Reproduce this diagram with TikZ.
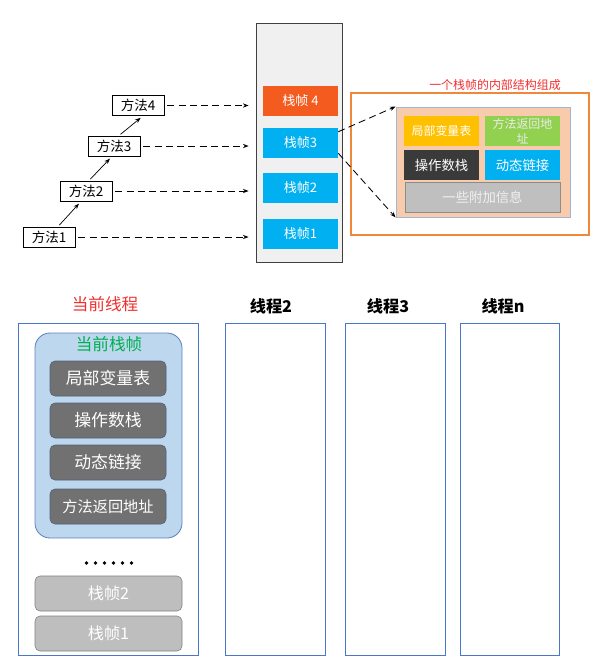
\documentclass[tikz,border=0pt]{standalone}
\usepackage{fontspec}
\setmainfont{Noto Sans CJK SC}
\usetikzlibrary{arrows.meta}

\newcommand{\pxu}{0.025cm}
\definecolor{stackgray}{HTML}{F0F0F0}
\definecolor{frameorange}{HTML}{F45B1F}
\definecolor{frameblue}{HTML}{00B0F0}
\definecolor{partyellow}{HTML}{FFC000}
\definecolor{partgreen}{HTML}{92D050}
\definecolor{partdark}{HTML}{3A3A3A}
\definecolor{partgray}{HTML}{BFBFBF}
\definecolor{peach}{HTML}{F8CBAD}
\definecolor{peachline}{HTML}{9DB7D5}
\definecolor{outerorange}{HTML}{F0883A}
\definecolor{titlered}{HTML}{F03030}
\definecolor{threadblue}{HTML}{4A78C8}
\definecolor{curblue}{HTML}{BDD7EE}
\definecolor{curline}{HTML}{5F82BF}
\definecolor{itemgray}{HTML}{717171}
\definecolor{itemline}{HTML}{4F607C}
\definecolor{oldgray}{HTML}{BEBEBE}
\definecolor{titlegreen}{HTML}{00B050}

\tikzset{
  method/.style={draw, fill=white, line width=0.6pt, inner sep=0pt,
    minimum width=52*\pxu, minimum height=20*\pxu, font=\fontsize{9.6}{10}\selectfont},
  frame/.style={fill=#1, text=white, inner sep=0pt,
    minimum width=75*\pxu, minimum height=30*\pxu, font=\fontsize{9.3}{10}\selectfont},
  part/.style={fill=#1, text=white, inner sep=0pt, align=center,
    minimum width=75*\pxu, minimum height=30*\pxu, font=\fontsize{8.5}{10}\selectfont},
  item/.style={draw=itemline, fill=itemgray, text=white, rounded corners=5*\pxu, inner sep=0pt,
    minimum width=116*\pxu, minimum height=35*\pxu, font=\fontsize{12}{14}\selectfont},
  olditem/.style={draw=gray, fill=oldgray, text=white, rounded corners=5*\pxu, inner sep=0pt,
    minimum width=147*\pxu, minimum height=35*\pxu, font=\fontsize{11.5}{14}\selectfont},
  thread/.style={draw=threadblue, line width=0.7pt, inner sep=0pt,
    minimum height=332*\pxu, minimum width=#1*\pxu},
  threadname/.style={font=\fontsize{11.5}{14}\selectfont\bfseries},
  calls/.style={dash pattern=on 5pt off 3pt, line width=0.6pt, -{Stealth[length=4pt,width=3pt]}}
}

\begin{document}
\begin{tikzpicture}[x=0.025cm, y=-0.025cm]
  \useasboundingbox (0,0) rectangle (610,672);

  % stack of the thread
  \node[draw=black!75, fill=stackgray, line width=0.6pt, minimum width=86*\pxu, minimum height=239*\pxu] (stack) at (299,142.5) {};
  \node[frame=frameorange] (f4) at (300.5,101) {栈帧 4};
  \foreach \n/\y in {3/143, 2/188, 1/234}
    \node[frame=frameblue] (f\n) at (300.5,\y) {栈帧\n};

  % methods calling each other
  \node[method] (m1) at (49,237) {方法1};
  \node[method] (m2) at (86,191) {方法2};
  \node[method] (m3) at (114,146) {方法3};
  \node[method] (m4) at (138,105.5) {方法4};
  \foreach \a/\b/\sa/\sb in {m1/m2/9/-5, m2/m3/3/-2, m3/m4/5/5}
    \draw[-{Stealth[length=4pt,width=3pt]}, line width=0.5pt, shorten <=2*\pxu, shorten >=3*\pxu]
      ([xshift=\sa*\pxu]\a.north) -- ([xshift=\sb*\pxu]\b.south);
  \foreach \m in {1,...,4}
    \draw[calls, shorten <=3*\pxu, shorten >=7*\pxu] (m\m.east) -- (m\m.east -| stack.west);

  % inside of one frame
  \node[titlered, font=\fontsize{8.5}{10}\selectfont] (dtitle) at (495,85) {一个栈帧的内部结构组成};
  \node[draw=outerorange, line width=0.9pt, minimum width=238*\pxu, minimum height=142*\pxu] (detail) at (470,164) {};
  \node[draw=peachline, fill=peach, line width=0.6pt, minimum width=174*\pxu, minimum height=110*\pxu] (inner) at (483,162) {};
  \node[part=partyellow] (lv) at (441.5,131) {局部变量表};
  \node[part=partgreen, text=white!92!black, font=\fontsize{8.5}{11}\selectfont] (ra) at (522.5,131) {方法返回地\\址};
  \node[part=partdark, font=\fontsize{9.5}{11}\selectfont] (os) at (441.5,165) {操作数栈};
  \node[part=frameblue, font=\fontsize{9.5}{11}\selectfont] (dl) at (522.5,165) {动态链接};
  \node[part=partgray, draw=black!45, minimum width=155*\pxu, text=white!94!black, font=\fontsize{9.5}{11}\selectfont] (ex) at (482.5,197) {一些附加信息};
  \draw[calls] ([yshift=-4*\pxu]f3.north east) -- (inner.north west);
  \draw[calls] ([yshift=5*\pxu]f3.south east) -- (inner.south west);

  % current thread
  \node[titlered, font=\fontsize{11.8}{14}\selectfont] (t1name) at (105,304) {当前线程};
  \node[thread=180] (t1) at (108,489) {};
  \node[draw=curline, fill=curblue, line width=0.6pt, rounded corners=15*\pxu,
    minimum width=147*\pxu, minimum height=205*\pxu] (cur) at (108.5,435.5) {};
  \node[titlegreen, font=\fontsize{11.8}{14}\selectfont] (curname) at (109,344) {当前栈帧};
  \node[item] (i1) at (108,378.5) {局部变量表};
  \node[item] (i2) at (108,420.5) {操作数栈};
  \node[item] (i3) at (108,462.5) {动态链接};
  \node[item, font=\fontsize{10.8}{14}\selectfont] (i4) at (108,506.5) {方法返回地址};
  \foreach \k in {-2.5,-1.5,...,2.5}
    \fill ({109+\k*9},563) circle (1.8*\pxu);
  \node[olditem] (s2) at (108.5,593.5) {栈帧2};
  \node[olditem] (s1) at (108.5,633.5) {栈帧1};

  % the other threads
  \foreach \n/\x/\w/\lx in {2/275/100/271, 3/395/100/388, n/509.5/99/503} {
    \node[threadname] (name\n) at (\lx,306) {线程\n};
    \node[thread=\w] (t\n) at (\x,489) {};
  }
\end{tikzpicture}
\end{document}
